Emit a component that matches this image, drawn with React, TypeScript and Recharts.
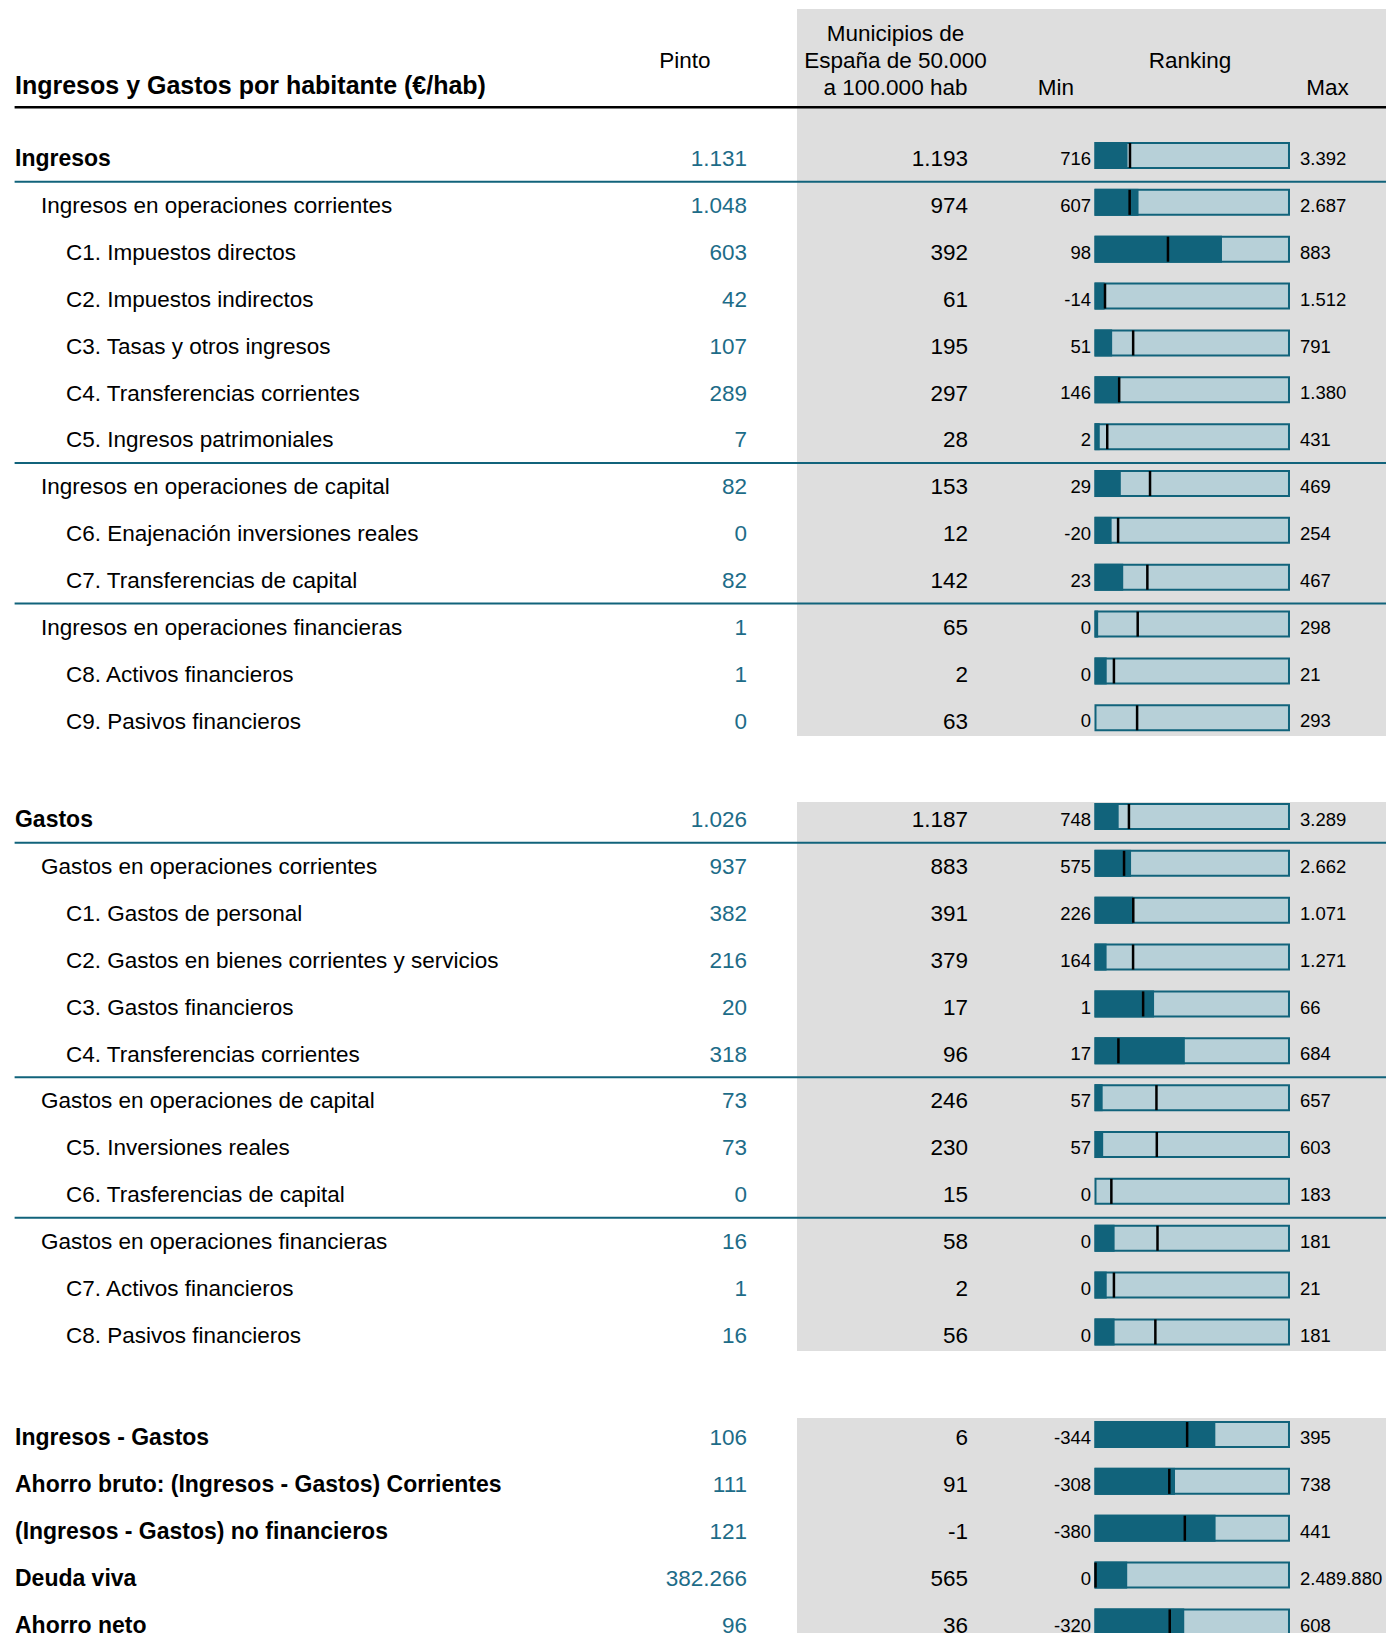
import React from 'react';
import { ComposedChart, Bar, XAxis, YAxis, LabelList } from 'recharts';

// Ingresos
const ingresosLabels = [
  'Ingresos',
  'Ingresos en operaciones corrientes',
  'C1. Impuestos directos',
  'C2. Impuestos indirectos',
  'C3. Tasas y otros ingresos',
  'C4. Transferencias corrientes',
  'C5. Ingresos patrimoniales',
  'Ingresos en operaciones de capital',
  'C6. Enajenación inversiones reales',
  'C7. Transferencias de capital',
  'Ingresos en operaciones financieras',
  'C8. Activos financieros',
  'C9. Pasivos financieros'
];
const ingresosLevels = [0, 1, 2, 2, 2, 2, 2, 1, 2, 2, 1, 2, 2];
const ingresosPinto = [1131, 1048, 603, 42, 107, 289, 7, 82, 0, 82, 1, 1, 0];
const ingresosMedia = [1193, 974, 392, 61, 195, 297, 28, 153, 12, 142, 65, 2, 63];
const ingresosMin = [716, 607, 98, -14, 51, 146, 2, 29, -20, 23, 0, 0, 0];
const ingresosMax = [3392, 2687, 883, 1512, 791, 1380, 431, 469, 254, 467, 298, 21, 293];
const ingresosBreaks = [0, 6, 9];

// Gastos
const gastosLabels = [
  'Gastos',
  'Gastos en operaciones corrientes',
  'C1. Gastos de personal',
  'C2. Gastos en bienes corrientes y servicios',
  'C3. Gastos financieros',
  'C4. Transferencias corrientes',
  'Gastos en operaciones de capital',
  'C5. Inversiones reales',
  'C6. Trasferencias de capital',
  'Gastos en operaciones financieras',
  'C7. Activos financieros',
  'C8. Pasivos financieros'
];
const gastosLevels = [0, 1, 2, 2, 2, 2, 1, 2, 2, 1, 2, 2];
const gastosPinto = [1026, 937, 382, 216, 20, 318, 73, 73, 0, 16, 1, 16];
const gastosMedia = [1187, 883, 391, 379, 17, 96, 246, 230, 15, 58, 2, 56];
const gastosMin = [748, 575, 226, 164, 1, 17, 57, 57, 0, 0, 0, 0];
const gastosMax = [3289, 2662, 1071, 1271, 66, 684, 657, 603, 183, 181, 21, 181];
const gastosBreaks = [0, 5, 8];

// Saldos
const saldosLabels = [
  'Ingresos - Gastos',
  'Ahorro bruto: (Ingresos - Gastos) Corrientes',
  '(Ingresos - Gastos) no financieros',
  'Deuda viva',
  'Ahorro neto'
];
const saldosLevels = [0, 0, 0, 0, 0];
const saldosPinto = [106, 111, 121, 382266, 96];
const saldosMedia = [6, 91, -1, 565, 36];
const saldosMin = [-344, -308, -380, 0, -320];
const saldosMax = [395, 738, 441, 2489880, 608];
const saldosBreaks: number[] = [];

const TEAL = '#11637b';
const LIGHT = '#b7d0d8';
const GRAY = '#dedede';
const VALUE_BLUE = '#1d6c88';
const FONT = "'Liberation Sans', Arial, Helvetica, sans-serif";
const ROW_H = 46.86;
const SHIFT = 3; // text sits a little lower than the bars
const W = 1386;

const fmt = (v: number) => {
  const s = String(Math.abs(v)).replace(/\B(?=(\d{3})+(?!\d))/g, '.');
  return v < 0 ? '-' + s : s;
};

function buildRows(
  labels: string[],
  levels: number[],
  pinto: number[],
  media: number[],
  min: number[],
  max: number[],
  breaks: number[]
) {
  return labels.map((name, i) => {
    const span = max[i] - min[i];
    return {
      name,
      level: levels[i],
      pinto: pinto[i],
      media: media[i],
      full: 1,
      pintoPos: (pinto[i] - min[i]) / span,
      mediaPos: (media[i] - min[i]) / span,
      minLabel: fmt(min[i]),
      maxLabel: fmt(max[i]),
      line: breaks.includes(i)
    };
  });
}

const ingresosRows = buildRows(ingresosLabels, ingresosLevels, ingresosPinto, ingresosMedia, ingresosMin, ingresosMax, ingresosBreaks);
const gastosRows = buildRows(gastosLabels, gastosLevels, gastosPinto, gastosMedia, gastosMin, gastosMax, gastosBreaks);
const saldosRows = buildRows(saldosLabels, saldosLevels, saldosPinto, saldosMedia, saldosMin, saldosMax, saldosBreaks);

type Row = ReturnType<typeof buildRows>[number];

const RowTick = (props: any) => {
  const { payload, rows } = props;
  const y = props.y + SHIFT;
  const row = (rows as Row[]).find((r) => r.name === payload.value);
  if (!row) return null;
  const labelX = [15, 41, 66][row.level];
  return (
    <g fontFamily={FONT} fontSize={22.5}>
      <text
        x={labelX}
        y={y}
        dy="0.35em"
        fill="#000"
        fontWeight={row.level === 0 ? 'bold' : 'normal'}
        fontSize={row.level === 0 ? 23 : 22.5}
      >
        {row.name}
      </text>
      <text x={747} y={y} dy="0.35em" textAnchor="end" fill={VALUE_BLUE}>
        {fmt(row.pinto)}
      </text>
      <text x={968} y={y} dy="0.35em" textAnchor="end" fill="#000">
        {fmt(row.media)}
      </text>
      {row.line && (
        <line x1={14.6} x2={W} y1={y + ROW_H / 2} y2={y + ROW_H / 2} stroke={TEAL} strokeWidth={2} />
      )}
    </g>
  );
};

// dark fill, padded so it covers the frame of the light bar like the original
const PintoFill = (props: any) => {
  const { x, y, width, height } = props;
  if (!(width > 0)) return null;
  return <rect x={x - 1} y={y - 1} width={width + 3} height={height + 2} fill={TEAL} />;
};

const MediaMark = (props: any) => {
  const { x, y, width, height } = props;
  const px = x + width;
  return <line x1={px} x2={px} y1={y} y2={y + height} stroke="#000" strokeWidth={2.5} />;
};

function Section({ rows, top }: { rows: Row[]; top: number }) {
  return (
    <div style={{ position: 'absolute', left: 0, top: top - SHIFT }}>
      <ComposedChart
        width={W}
        height={rows.length * ROW_H}
        data={rows}
        layout="vertical"
        margin={{ top: 0, right: 97, bottom: 0, left: 0 }}
        barGap={-25}
      >
        <XAxis type="number" domain={[0, 1]} hide />
        <YAxis
          type="category"
          dataKey="name"
          width={1095.5}
          axisLine={false}
          tickLine={false}
          interval={0}
          tick={(p: any) => <RowTick {...p} rows={rows} />}
        />
        <Bar dataKey="full" barSize={25} fill={LIGHT} stroke={TEAL} strokeWidth={2} isAnimationActive={false}>
          <LabelList dataKey="minLabel" position="left" offset={4.5} dy={SHIFT} fill="#000" fontSize={18.5} fontFamily={FONT} />
          <LabelList dataKey="maxLabel" position="right" offset={11} dy={SHIFT} fill="#000" fontSize={18.5} fontFamily={FONT} />
        </Bar>
        <Bar dataKey="pintoPos" barSize={25} shape={PintoFill} isAnimationActive={false} />
        <Bar dataKey="mediaPos" barSize={25} shape={MediaMark} isAnimationActive={false} />
      </ComposedChart>
    </div>
  );
}

export default function App() {
  return (
    <div
      style={{
        position: 'absolute',
        left: 0,
        top: 0,
        width: W,
        height: 1633,
        overflow: 'hidden',
        background: '#fff',
        fontFamily: FONT
      }}
    >
      <div style={{ position: 'absolute', left: 796.6, top: 9.4, width: W - 796.6, height: 736 - 9.4, background: GRAY }} />
      <div style={{ position: 'absolute', left: 796.6, top: 802, width: W - 796.6, height: 1351 - 802, background: GRAY }} />
      <div style={{ position: 'absolute', left: 796.6, top: 1418, width: W - 796.6, height: 1633 - 1418, background: GRAY }} />

      <svg width={W} height={120} style={{ position: 'absolute', left: 0, top: 0 }} fontFamily={FONT} fontSize={22.5}>
        <text x={15} y={85.5} dy="0.35em" fontWeight="bold" fontSize={25} fill="#000">
          Ingresos y Gastos por habitante (€/hab)
        </text>
        <text x={685} y={60} dy="0.35em" textAnchor="middle" fill="#000">Pinto</text>
        <text x={895.5} y={33.3} dy="0.35em" textAnchor="middle" fill="#000">Municipios de</text>
        <text x={895.5} y={60.4} dy="0.35em" textAnchor="middle" fill="#000">España de 50.000</text>
        <text x={895.5} y={87.5} dy="0.35em" textAnchor="middle" fill="#000">a 100.000 hab</text>
        <text x={1190} y={60.4} dy="0.35em" textAnchor="middle" fill="#000">Ranking</text>
        <text x={1056} y={87.5} dy="0.35em" textAnchor="middle" fill="#000">Min</text>
        <text x={1327.6} y={87.5} dy="0.35em" textAnchor="middle" fill="#000">Max</text>
        <line x1={14.6} x2={W} y1={107.3} y2={107.3} stroke="#000" strokeWidth={2.5} />
      </svg>

      <Section rows={ingresosRows} top={158.3 - ROW_H / 2} />
      <Section rows={gastosRows} top={819.5 - ROW_H / 2} />
      <Section rows={saldosRows} top={1437 - ROW_H / 2} />
    </div>
  );
}
